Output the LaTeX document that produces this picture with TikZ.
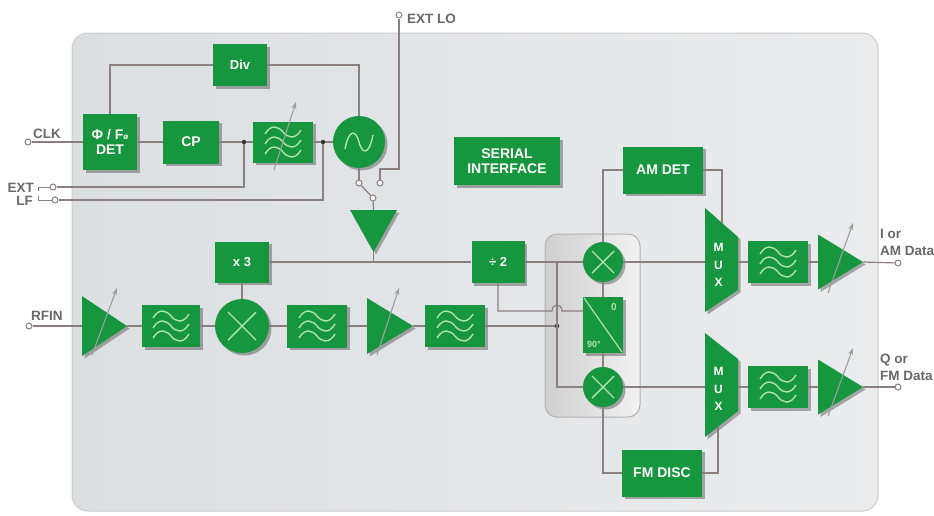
\documentclass[tikz,border=0pt]{standalone}
\usepackage{fontspec}
\setmainfont{Liberation Sans}
\usetikzlibrary{shadows,arrows.meta,calc}
\definecolor{gr}{RGB}{22,150,62}
\definecolor{wv}{RGB}{178,226,178}
\definecolor{ln}{RGB}{140,128,126}
\definecolor{lbl}{RGB}{105,105,105}
\definecolor{bgl}{RGB}{220,223,226}
\definecolor{bgm}{RGB}{245,246,247}
\definecolor{bgr}{RGB}{234,236,238}
\tikzset{
  shd/.style={drop shadow={shadow xshift=2.5pt, shadow yshift=-2.5pt, opacity=0.3, fill=black}},
  blk/.style={fill=gr, shd, inner sep=0, text=white, font=\bfseries\fontsize{14}{15.5}\selectfont, align=center},
  circ/.style={fill=gr, shd, circle, inner sep=0, minimum size=#1},
  hold/.style={inner sep=0, outer sep=0},
  wire/.style={draw=ln, line width=1.2pt},
  term/.style={circle, draw=ln, line width=1pt, fill=white, inner sep=0, minimum size=6pt},
  lab/.style={text=lbl, font=\bfseries\fontsize{13.5}{14}\selectfont, inner sep=0},
  wav/.style={draw=wv, line width=1.4pt},
  tune/.style={draw=gray!75, line width=1.1pt, -{Stealth[length=7pt,width=5pt]}},
  jdot/.style={circle, fill=black!80, inner sep=0, minimum size=4.5pt},
  muxt/.style={text=white, font=\bfseries\fontsize{12}{17.5}\selectfont, align=center, inner sep=0},
}
\newcommand\wavesat[1]{%
  \begin{scope}[shift={(#1)}]
    \foreach \dy in {-10,0,10}{
      \draw[wav] (-18,\dy+2) .. controls (-12,\dy-8) and (-5,\dy-6) .. (0,\dy) .. controls (5,\dy+6) and (12,\dy+8) .. (18,\dy-2);
    }
  \end{scope}}
\newcommand\crossat[1]{%
  \begin{scope}[shift={(#1)}]
    \draw[wav] (-14,-14) -- (14,14) (-14,14) -- (14,-14);
  \end{scope}}
\newcommand\crosssmall[1]{%
  \begin{scope}[shift={(#1)}]
    \draw[wav] (-11,-11) -- (11,11) (-11,11) -- (11,-11);
  \end{scope}}
\begin{document}
\begin{tikzpicture}[x=1pt,y=-1pt]
\fill[white] (0,0) rectangle (934,515);
\useasboundingbox (0,0) rectangle (934,515);
% chip background
\shade[rounded corners=16pt, left color=bgl, middle color=bgm, right color=bgr] (72,33) rectangle (878,511);
\draw[gray!40, line width=1pt, rounded corners=16pt] (72,33) rectangle (878,511);
% quadrature group
\shade[rounded corners=12pt, left color=gray!38, right color=gray!10] (545,234) rectangle (640,417);
\draw[gray!60, line width=1pt, rounded corners=12pt] (545,234) rectangle (640,417);

% ---------- PLL ----------
\node[blk, minimum width=54pt, minimum height=56pt] (det) at (110,142) {Φ / F{\fontsize{8}{8}\selectfont ø}\\DET};
\node[blk, minimum width=54pt, minimum height=42pt, font=\bfseries\fontsize{13}{14}\selectfont] (div) at (240,65) {Div};
\node[blk, minimum width=56pt, minimum height=43pt] (cp) at (191,142) {CP};
\node[blk, minimum width=60pt, minimum height=41pt] (tf) at (283,142) {};
\wavesat{tf.center}
\draw[tune] (274,170) -- (296,102);
\node[circ=52pt] (osc) at (359,142) {};
\begin{scope}[shift={(osc.center)}]
  \draw[wav] (-14,7) .. controls (-10,-14) and (-3,-12) .. (0,0) .. controls (3,12) and (10,14) .. (14,-7);
\end{scope}
\node[jdot] (j1) at (244,142) {};
\node[jdot] (j2) at (323,142) {};
\node[term] (clk) at (28,142) {};
\node[term] (ext) at (53,187) {};
\node[term] (lf) at (55,200) {};
\node[term] (sw1) at (359,183) {};
\node[term] (sw2) at (380,183) {};
\node[term] (swp) at (373,198) {};
\node[term] (extlo) at (399,15) {};
\node[lab, anchor=base west] (lclk) at (33,138) {CLK};
\node[lab, anchor=base east] (lext) at (34,192) {EXT};
\node[lab, anchor=base east] (llf) at (33,205) {LF};
\node[lab, anchor=base west] (lextlo) at (407,23) {EXT LO};

\node[hold, minimum width=47pt, minimum height=42pt] (buf) at (373.5,231) {};
\fill[gr, shd] (buf.north west) -- (buf.north east) -- (buf.south) -- cycle;

\draw[wire] (clk) -- (det.west);
\draw[wire] (det.east) -- (cp.west);
\draw[wire] (cp.east) -- (j1) -- (tf.west);
\draw[wire] (tf.east) -- (j2) -- (osc.west);
\draw[wire] (det.north) |- (div.west);
\draw[wire] (div.east) -| (osc.north);
\draw[wire] (ext) -| (j1);
\draw[wire] (lf) -| (j2);
\draw[wire, line width=1pt] (38,191) -- (38,187) -- (ext);
\draw[wire, line width=1pt] (38,196) -- (38,200) -- (lf);
\draw[wire] (osc.south) -- (sw1);
\draw[wire] (swp) -- (sw1);
\draw[wire] (sw2) -- (380,169) -| (extlo);
\draw[wire] (swp) -- (buf.north);

% ---------- RF chain ----------
\node[term] (rfin) at (29,326) {};
\node[lab, anchor=base west] (lrfin) at (31,320) {RFIN};
\node[hold, minimum width=45pt, minimum height=60pt] (amp1) at (104.5,326) {};
\fill[gr, shd] (amp1.north west) -- (amp1.east) -- (amp1.south west) -- cycle;
\draw[tune] (92,355) -- (117,288);
\node[blk, minimum width=58pt, minimum height=42pt] (f1) at (171,326) {};
\wavesat{f1.center}
\node[circ=54pt] (mix1) at (242,326) {};
\crossat{mix1.center}
\node[blk, minimum width=54pt, minimum height=41pt, font=\bfseries\fontsize{13}{14}\selectfont] (x3) at (242,262) {x 3};
\node[blk, minimum width=60pt, minimum height=43pt] (f2) at (317,326) {};
\wavesat{f2.center}
\node[hold, minimum width=46pt, minimum height=56pt] (amp2) at (390,326) {};
\fill[gr, shd] (amp2.north west) -- (amp2.east) -- (amp2.south west) -- cycle;
\draw[tune] (377,355) -- (399,288);
\node[blk, minimum width=60pt, minimum height=42pt] (f3) at (455,326) {};
\wavesat{f3.center}

\node[blk, minimum width=106pt, minimum height=48pt, font=\bfseries\fontsize{14}{15.5}\selectfont] (serial) at (507,161) {SERIAL\\INTERFACE};
\node[blk, minimum width=53pt, minimum height=42pt, font=\bfseries\fontsize{13}{14}\selectfont] (div2) at (498,262) {÷ 2};

% ---------- quadrature ----------
\node[circ=40pt] (mixI) at (603,262) {};
\crosssmall{mixI.center}
\node[blk, minimum width=40pt, minimum height=56pt] (ps) at (603,325) {};
\draw[wav, line width=1.2pt] (584,298) -- (622,352);
\node[text=wv, font=\bfseries\fontsize{10}{10}\selectfont, inner sep=0] (ps0) at (614,307) {0};
\node[text=wv, font=\bfseries\fontsize{9}{9}\selectfont, inner sep=0] (ps90) at (594,344) {90°};
\node[circ=40pt] (mixQ) at (603,387) {};
\crosssmall{mixQ.center}
\node[blk, minimum width=80pt, minimum height=47pt] (amdet) at (663,170) {AM DET};
\node[blk, minimum width=80pt, minimum height=47pt] (fmdisc) at (662,473) {FM DISC};

\coordinate (vt) at (557,262);
\coordinate (vb) at (557,387);
\node[jdot] (jrf) at (557,326) {};

% MUX
\node[hold, minimum width=33pt, minimum height=104pt] (mux1) at (721.5,260) {};
\fill[gr, shd] (mux1.north west) -- ($(mux1.north east)+(0,29)$) -- ($(mux1.south east)+(0,-22)$) -- (mux1.south west) -- cycle;
\node[muxt] (mt1) at (718.5,265) {M\\U\\X};
\node[hold, minimum width=33pt, minimum height=104pt] (mux2) at (721.5,385) {};
\fill[gr, shd] (mux2.north west) -- ($(mux2.north east)+(0,26)$) -- ($(mux2.south east)+(0,-26)$) -- (mux2.south west) -- cycle;
\node[muxt] (mt2) at (718.5,389) {M\\U\\X};
\coordinate (muxtop) at (722,223);
\coordinate (muxbot) at (718,427);

% outputs
\node[blk, minimum width=60pt, minimum height=42pt] (f4) at (778,262) {};
\wavesat{f4.center}
\node[hold, minimum width=45pt, minimum height=55pt] (amp3) at (840.5,262) {};
\fill[gr, shd] (amp3.north west) -- (amp3.east) -- (amp3.south west) -- cycle;
\draw[tune] (828,293) -- (853,223);
\node[blk, minimum width=60pt, minimum height=42pt] (f5) at (778,387) {};
\wavesat{f5.center}
\node[hold, minimum width=45pt, minimum height=55pt] (amp4) at (840.5,387) {};
\fill[gr, shd] (amp4.north west) -- (amp4.east) -- (amp4.south west) -- cycle;
\draw[tune] (828,416) -- (853,348);
\node[term] (iout) at (898,263) {};
\node[term] (qout) at (898,387) {};
\node[lab, anchor=base west] (li1) at (880,238) {I or};
\node[lab, anchor=base west] (li2) at (880,255) {AM Data};
\node[lab, anchor=base west] (lq1) at (880,363) {Q or};
\node[lab, anchor=base west] (lq2) at (880,380) {FM Data};

% wires RF
\draw[wire] (rfin) -- (amp1.west);
\draw[wire] (amp1.east) -- (f1.west);
\draw[wire] (f1.east) -- (mix1.west);
\draw[wire] (mix1.east) -- (f2.west);
\draw[wire] (f2.east) -- (amp2.west);
\draw[wire] (amp2.east) -- (f3.west);
\draw[wire] (f3.east) -- (jrf);
\draw[wire] (x3.south) -- (mix1.north);
\draw[wire] (x3.east) -- (div2.west);
\draw[wire] (buf.south) -- (buf.south |- x3.east);
\draw[wire] (div2.east) -- (mixI.west);
\draw[wire] (vt) -- (vb) -- (mixQ.west);
\draw[wire] (div2.south) |- (552,311) .. controls (552,303) and (562,303) .. (562,311) -- (ps.west |- 0,311);
\draw[wire] (mixI.south) -- (ps.north);
\draw[wire] (ps.south) -- (mixQ.north);
\draw[wire] (mixI.north) |- (amdet.west);
\draw[wire] (amdet.east) -| (muxtop);
\draw[wire] (mixQ.south) |- (fmdisc.west);
\draw[wire] (fmdisc.east) -| (muxbot);
\draw[wire] (mixI.east) -- (mixI.east -| mux1.west);
\draw[wire] (mixQ.east) -- (mixQ.east -| mux2.west);
\draw[wire] (mux1.east |- f4.west) -- (f4.west);
\draw[wire] (f4.east) -- (amp3.west);
\draw[wire] (amp3.east) -- (iout);
\draw[wire] (mux2.east |- f5.west) -- (f5.west);
\draw[wire] (f5.east) -- (amp4.west);
\draw[wire] (amp4.east) -- (qout);
\end{tikzpicture}
\end{document}
